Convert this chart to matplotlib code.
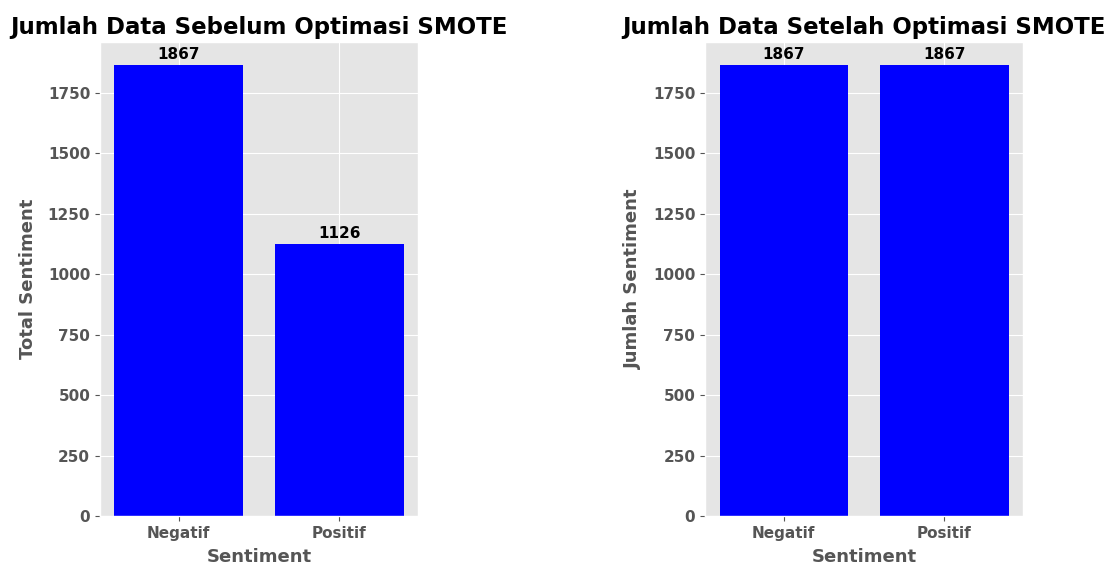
import matplotlib
matplotlib.use("Agg")
from matplotlib import pyplot as plt

categories = ["Negatif", "Positif"]
before_counts = [1867, 1126]
after_counts = [1867, 1867]

plt.style.use("ggplot")

fig = plt.figure(figsize=(11.07, 5.65), dpi=100)
ax1 = fig.add_axes([0.0903, 0.0867, 0.2873, 0.839])
ax2 = fig.add_axes([0.6369, 0.0867, 0.2873, 0.839])

panels = [
    (ax1, before_counts, "Jumlah Data Sebelum Optimasi SMOTE", "Total Sentiment"),
    (ax2, after_counts, "Jumlah Data Setelah Optimasi SMOTE", "Jumlah Sentiment"),
]

for ax, counts, title, ylabel in panels:
    bars = ax.bar(categories, counts, color="blue")
    for b in bars:
        ax.text(b.get_x() + b.get_width() / 2, b.get_height() + 12, str(int(b.get_height())),
                ha="center", va="bottom", fontsize=11, fontweight="bold", color="black")
    ax.set_title(title, fontsize=16.5, fontweight="bold", color="black", pad=6)
    ax.set_xlabel("Sentiment", fontsize=13, fontweight="bold", color="#555555", labelpad=5)
    ax.set_ylabel(ylabel, fontsize=13, fontweight="bold", color="#555555", labelpad=8)
    for lab in ax.get_xticklabels() + ax.get_yticklabels():
        lab.set_fontweight("bold")
        lab.set_fontsize(11)

fig.savefig("out.png", dpi=100)
